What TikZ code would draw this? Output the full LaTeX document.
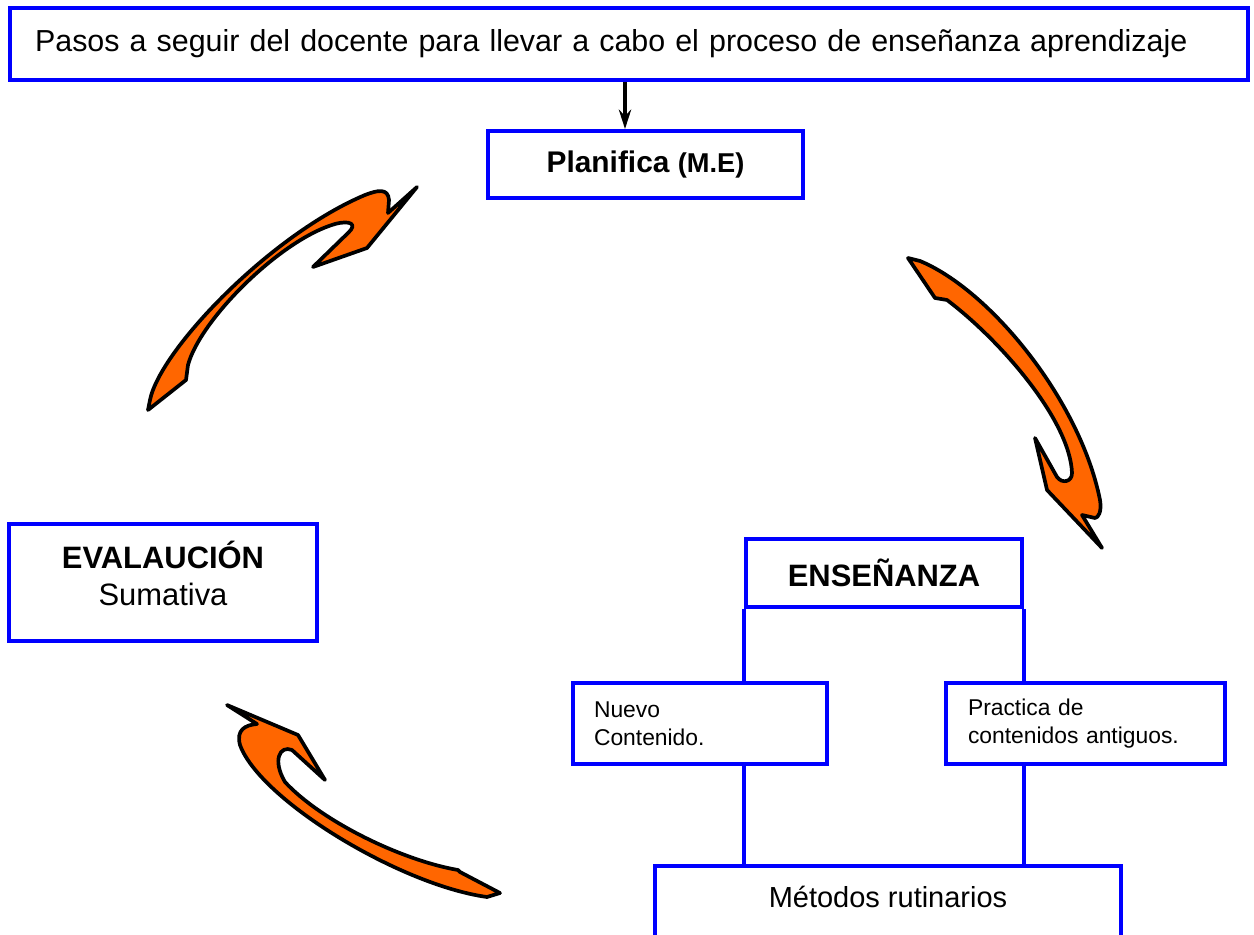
\documentclass[tikz,border=0pt]{standalone}
\usepackage{fontspec}
\setmainfont{Liberation Sans}
\usetikzlibrary{arrows.meta}

\definecolor{naranja}{RGB}{255,102,0}

\begin{document}
\begin{tikzpicture}[x=0.02cm,y=-0.02cm,
	caja/.style={draw=blue, line width=2.3pt, inner sep=0pt},
	linea/.style={draw=blue, line width=2.3pt},
	curva/.style={fill=naranja, draw=black, line width=2.1pt, line join=round}]
	\useasboundingbox (0,0) rectangle (1254,935);

	\node[caja, minimum width=24.76cm, minimum height=1.44cm, text width=23.76cm, align=left, font={\fontsize{17.3}{21}\selectfont}] (pasos) at (629,44) {Pasos a seguir del docente para llevar a cabo el proceso de enseñanza aprendizaje};
	\node[caja, minimum width=6.3cm, minimum height=1.34cm, font={\fontsize{17}{20}\selectfont\bfseries}] (plan) at (645.5,164.5) {Planifica {\fontsize{15.5}{18}\selectfont(M.E)}};
	\node[caja, minimum width=6.16cm, minimum height=2.34cm, align=center, text depth=0.38cm, font={\fontsize{17.6}{21}\selectfont}] (eval) at (163,582.5) {\textbf{EVALAUCIÓN}\\Sumativa};
	\node[caja, minimum width=5.52cm, minimum height=1.36cm, font={\fontsize{17.6}{21}\selectfont\bfseries}] (ens) at (884,573) {ENSEÑANZA};
	\node[caja, minimum width=5.08cm, minimum height=1.62cm, text width=4.24cm, align=left, font={\fontsize{13}{16}\selectfont}] (nuevo) at (700,723.5) {Nuevo\\Contenido.};
	\node[caja, minimum width=5.58cm, minimum height=1.62cm, text width=4.7cm, align=left, font={\fontsize{13}{16}\selectfont}] (prac) at (1085.5,723.5) {Practica de\\contenidos antiguos.};
	\node[caja, minimum width=9.32cm, minimum height=1.48cm, text depth=0.24cm, font={\fontsize{16.5}{20}\selectfont}] (met) at (888,903) {Métodos rutinarios};

	\coordinate (c) at (625,0);
	\draw[-{Stealth[length=11pt,width=7pt]}, line width=2pt] (pasos.south -| c) -- (plan.north -| c);

	\draw[linea] (ens.south west) -- (ens.south west |- nuevo.north);
	\draw[linea] (ens.south east) -- (ens.south east |- prac.north);
	\draw[linea] (nuevo.south -| ens.south west) -- (met.north -| ens.south west);
	\draw[linea] (prac.south -| ens.south east) -- (met.north -| ens.south east);

	% flechas curvas
	\filldraw[curva] (148,410) -- (150,400) .. controls (160,350) and (270,235) .. (365,195)
		.. controls (378,190) and (388,188) .. (389,200) -- (388,213) -- (417,187) -- (367,248)
		-- (313,267) -- (348,233) .. controls (358,224) and (350,220) .. (335,224)
		.. controls (280,240) and (200,320) .. (188,365) -- (186,380) -- cycle;
	\filldraw[curva] (908,258) -- (920,261) .. controls (990,290) and (1080,400) .. (1100,500)
		.. controls (1102,512) and (1098,518) .. (1095,518) -- (1082,515) -- (1102,548) -- (1047,490)
		-- (1035,438) -- (1057,477) .. controls (1062,484) and (1072,482) .. (1072,473)
		.. controls (1070,420) and (1000,340) .. (947,300) -- (935,298) -- cycle;
	\filldraw[curva] (227,705) -- (298,735) -- (325,780) -- (292,750)
		.. controls (280,745) and (272,760) .. (285,782)
		.. controls (320,820) and (400,860) .. (458,870) -- (460,872) -- (500,893) -- (487,897)
		.. controls (400,885) and (260,800) .. (240,745)
		.. controls (236,730) and (245,725) .. (257,724) -- cycle;

\end{tikzpicture}
\end{document}
